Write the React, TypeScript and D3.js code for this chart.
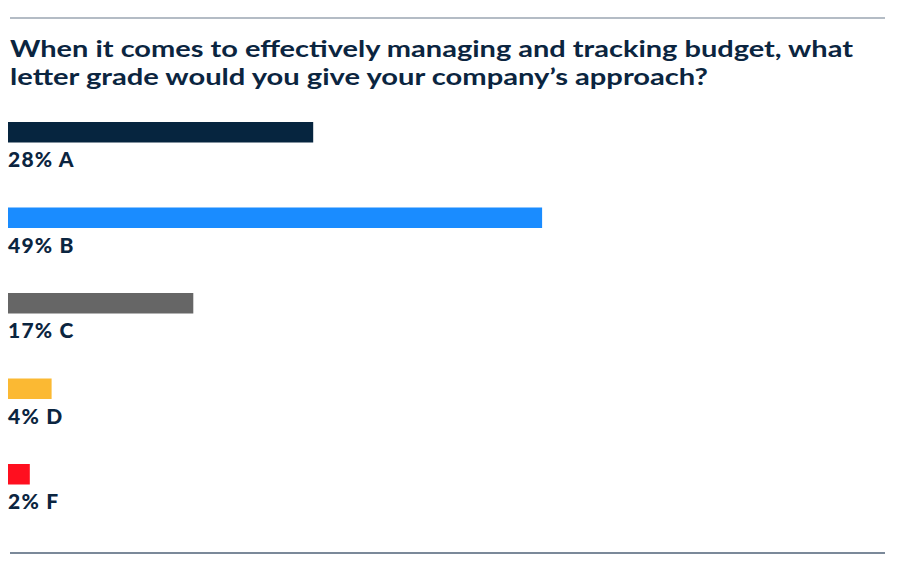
import React from "react";
import * as d3 from "d3";

const grades = ["A", "B", "C", "D", "F"];
const percents = [28, 49, 17, 4, 2];
const colors = ["#06253f", "#1a8cff", "#666666", "#fbb933", "#ff0f1f"];
const titleLines = [
  "When it comes to effectively managing and tracking budget, what",
  "letter grade would you give your company\u2019s approach?",
];

const W = 898;
const H = 568;
const TEXT = "#0b2540";
const FONT = "Lato, 'Open Sans', 'DejaVu Sans', sans-serif";

export default function App() {
  const x = d3.scaleLinear().domain([0, 50]).range([8, 553]);
  const y = d3
    .scaleBand<string>()
    .domain(grades)
    .range([122, 122 + 5 * 85.5])
    .paddingInner(0);
  const barH = 20.5;
  const titleWidths = [843, 698];
  return (
    <svg
      width={W}
      height={H}
      style={{ position: "absolute", left: 0, top: 0, background: "#fff" }}
    >
      <line x1={10} x2={885} y1={18} y2={18} stroke="#9ba6b2" strokeWidth={1.5} />
      <line x1={10} x2={885} y1={553} y2={553} stroke="#4f6277" strokeWidth={1.5} />
      <text fill={TEXT} fontFamily={FONT} fontWeight={700} fontSize={23.5}>
        {titleLines.map((t, i) => (
          <tspan
            key={i}
            x={10}
            y={57.2 + i * 28.2}
            textLength={titleWidths[i]}
            lengthAdjust="spacingAndGlyphs"
          >
            {t}
          </tspan>
        ))}
      </text>
      {grades.map((g, i) => {
        const y0 = y(g)!;
        return (
          <g key={g}>
            <rect
              x={x(0)}
              y={y0}
              width={x(percents[i]) - x(0)}
              height={barH}
              fill={colors[i]}
            />
            <text
              x={8}
              y={y0 + barH + 24.5}
              fill={TEXT}
              fontFamily={FONT}
              fontWeight={900}
              fontSize={21}
              letterSpacing={1.2}
            >
              {`${percents[i]}% ${g}`}
            </text>
          </g>
        );
      })}
    </svg>
  );
}
